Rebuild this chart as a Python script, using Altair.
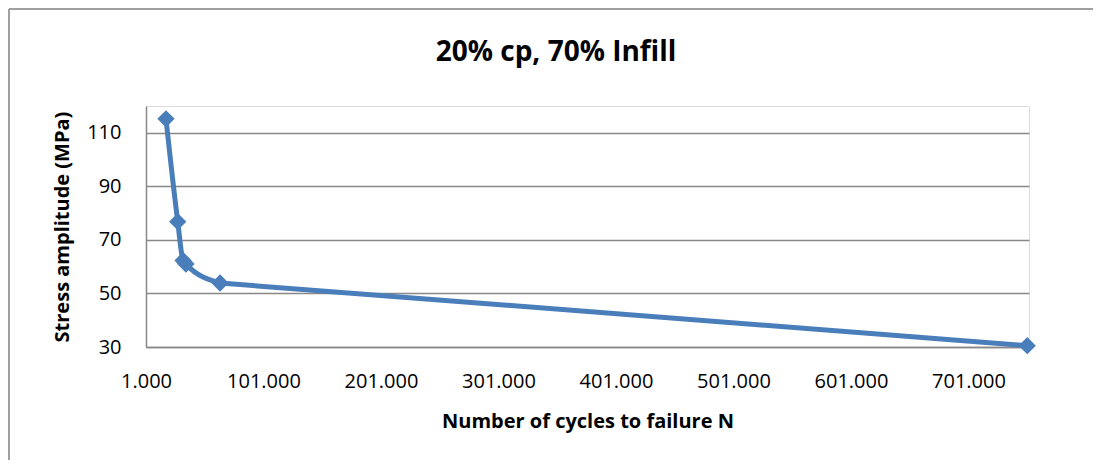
import altair as alt
import pandas as pd

cycles = [18000, 28000, 32500, 35000, 64000, 751000]
stress = [115.2, 76.8, 62.3, 61.0, 53.9, 30.5]
x_ticks = [1000, 101000, 201000, 301000, 401000, 501000, 601000, 701000]
y_ticks = [30, 50, 70, 90, 110]
title_text = ["20% cp, 70% Infill"]

df = pd.DataFrame({"N": cycles, "S": stress})
steep = df.iloc[:5]
tail = df.iloc[4:]
tdf = pd.DataFrame({"t": title_text})

BLUE = "#4A7EBB"
GRID = "#888888"
FONT = "Open Sans"

x = alt.X("N:Q", scale=alt.Scale(domain=[1000, 752500], nice=False, zero=False),
          axis=alt.Axis(values=x_ticks, title="Number of cycles to failure N",
                        labelExpr="replace(format(datum.value, ','), ',', '.')",
                        grid=False, ticks=False, domainColor=GRID, domainWidth=1.5,
                        labelFont=FONT, labelFontSize=20, labelColor="#000000",
                        labelPadding=24, titleFont=FONT, titleFontSize=20,
                        titleFontWeight="bold", titleColor="#000000", titlePadding=20,
                        labelFlush=False))
y = alt.Y("S:Q", scale=alt.Scale(domain=[30, 120], nice=False, zero=False),
          axis=alt.Axis(values=y_ticks, title="Stress amplitude (MPa)",
                        grid=True, gridColor=GRID, gridWidth=1.3, ticks=False,
                        domainColor=GRID, domainWidth=1.5,
                        labelFont=FONT, labelFontSize=20, labelColor="#000000",
                        labelPadding=25, titleFont=FONT, titleFontSize=20,
                        titleFontWeight="bold", titleColor="#000000", titlePadding=14))

line1 = alt.Chart(steep).mark_line(color=BLUE, strokeWidth=5, interpolate="monotone",
                                   strokeCap="round", strokeJoin="round").encode(x=x, y=y)
line2 = alt.Chart(tail).mark_line(color=BLUE, strokeWidth=5, strokeCap="round").encode(x="N:Q", y="S:Q")
pts = alt.Chart(df).mark_point(shape="diamond", filled=True, color=BLUE, size=300, opacity=1).encode(x="N:Q", y="S:Q")

title = alt.Chart(tdf).mark_text(font=FONT, fontSize=28, fontWeight="bold", color="#000000",
                                 align="center", baseline="alphabetic").encode(
    text="t:N", x=alt.value(410), y=alt.value(-45))

border_left = alt.Chart(tdf).mark_rule(color="#A0A0A0", strokeWidth=2).encode(
    x=alt.value(-137), y=alt.value(-97), y2=alt.value(400))
border_top = alt.Chart(tdf).mark_rule(color="#A0A0A0", strokeWidth=2).encode(
    x=alt.value(-137), x2=alt.value(1000), y=alt.value(-97))

chart = alt.layer(border_left, border_top, line1, line2, pts, title).properties(
    width=883, height=241,
    padding={"left": 138, "top": 98, "right": 64, "bottom": 113},
    autosize=alt.AutoSizeParams(type="none"),
).configure_view(stroke=None).configure(background="white")

chart.save("out.html", embed_options={"renderer": "svg", "actions": False})
